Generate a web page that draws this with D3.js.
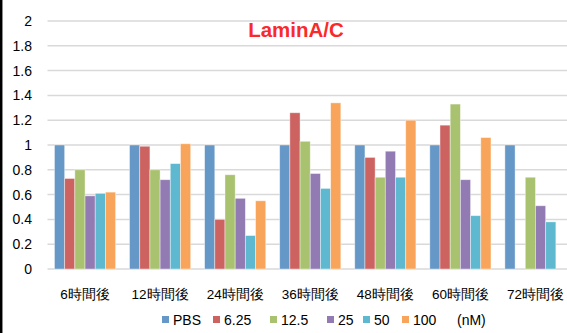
<!DOCTYPE html>
<html>
  <head>
    <meta charset="utf-8">
    <title>LaminA/C</title>
    <script src="https://cdn.jsdelivr.net/npm/d3@7"></script>
    <style>
      body { margin: 0; background: #fff; }
      svg { display: block; font-family: "Liberation Sans", "Noto Sans CJK JP", sans-serif; }
      .grid line { stroke: #d9d9d9; stroke-width: 1.5; }
      .tick text { fill: #000; }
    </style>
  </head>
  <body>
    <svg id="chart" width="567" height="333"></svg>

    <script>
      // data
      categories = ["6時間後", "12時間後", "24時間後", "36時間後", "48時間後", "60時間後", "72時間後"];
      series = ["PBS", "6.25", "12.5", "25", "50", "100"];
      colours = ["#6597c7", "#cd6361", "#a9c270", "#917bb2", "#5eb8cf", "#f8a55b"];
      PBS = [1, 1, 1, 1, 1, 1, 1];
      nM6_25 = [0.73, 0.99, 0.40, 1.26, 0.90, 1.16, null];
      nM12_5 = [0.80, 0.80, 0.76, 1.03, 0.74, 1.33, 0.74];
      nM25 = [0.59, 0.72, 0.57, 0.77, 0.95, 0.72, 0.51];
      nM50 = [0.61, 0.85, 0.27, 0.65, 0.74, 0.43, 0.38];
      nM100 = [0.62, 1.01, 0.55, 1.34, 1.20, 1.06, null];
      values = [PBS, nM6_25, nM12_5, nM25, nM50, nM100];
      yTicks = [0, 0.2, 0.4, 0.6, 0.8, 1, 1.2, 1.4, 1.6, 1.8, 2];

      // elements
      svg = d3.select("#chart");

      plotLeft = 47.5;
      plotRight = 573;
      plotTop = 21;
      plotBottom = 269;

      x = d3.scaleBand()
        .domain(categories)
        .range([plotLeft, plotRight]);

      inner = d3.scaleBand()
        .domain(series)
        .range([0, x.bandwidth()])
        .paddingOuter(0.195 * 3.5);

      y = d3.scaleLinear()
        .domain([0, 2])
        .range([plotBottom, plotTop]);

      // gridlines
      svg.append("g")
        .classed("grid", true)
        .selectAll("line")
          .data(yTicks)
        .enter().append("line")
          .attr("x1", plotLeft)
          .attr("x2", plotRight)
          .attr("y1", function(d) { return y(d); })
          .attr("y2", function(d) { return y(d); });

      // y axis labels
      yAxis = d3.axisLeft(y)
        .tickValues(yTicks)
        .tickFormat(d3.format("~g"))
        .tickSize(0)
        .tickPadding(0);
      svg.append("g")
        .attr("transform", "translate(32, 0)")
        .call(yAxis)
        .call(function(g) { g.select(".domain").remove(); })
        .selectAll("text")
          .style("font-size", "14px");

      // bars
      groups = svg.selectAll(".series")
          .data(series)
        .enter().append("g")
          .classed("series", true)
          .style("fill", function(d, i) { return colours[i]; });

      groups.selectAll("rect")
          .data(function(s, i) {
            return categories.map(function(c, j) { return { cat: c, s: s, v: values[i][j] }; })
              .filter(function(d) { return d.v != null; });
          })
        .enter().append("rect")
          .attr("x", function(d) { return x(d.cat) + inner(d.s); })
          .attr("width", inner.bandwidth())
          .attr("y", function(d) { return y(d.v); })
          .attr("height", function(d) { return plotBottom - y(d.v); })
          .style("stroke", "rgba(255,255,255,0.5)")
          .style("stroke-width", 0.8);

      // x axis labels
      xAxis = d3.axisBottom(x)
        .tickSize(0)
        .tickPadding(0);
      svg.append("g")
        .attr("transform", "translate(0, " + (plotBottom + 20) + ")")
        .call(xAxis)
        .call(function(g) { g.select(".domain").remove(); })
        .selectAll("text")
          .style("font-size", "13.5px");

      // title
      svg.append("text")
        .attr("x", 296)
        .attr("y", 37)
        .attr("text-anchor", "middle")
        .style("font-size", "20.5px")
        .style("font-weight", "bold")
        .style("fill", "#fb2a2a")
        .text("LaminA/C");

      // legend
      legendX = [162, 213, 270, 327, 363, 402];
      legend = svg.selectAll(".key")
          .data(series)
        .enter().append("g")
          .classed("key", true)
          .attr("transform", function(d, i) { return "translate(" + legendX[i] + ", 325)"; });
      legend.append("rect")
        .attr("x", 0)
        .attr("y", -9)
        .attr("width", 7)
        .attr("height", 7)
        .style("fill", function(d, i) { return colours[i]; });
      legend.append("text")
        .attr("x", 11)
        .attr("y", 0)
        .style("font-size", "14px")
        .text(function(d) { return d; });
      svg.append("text")
        .attr("x", 457)
        .attr("y", 325)
        .style("font-size", "14px")
        .text("(nM)");

      // left border
      svg.append("line")
        .attr("x1", 1.2)
        .attr("x2", 1.2)
        .attr("y1", 0)
        .attr("y2", 333)
        .style("stroke", "#000")
        .style("stroke-width", 2.5);
    </script>
  </body>
</html>
